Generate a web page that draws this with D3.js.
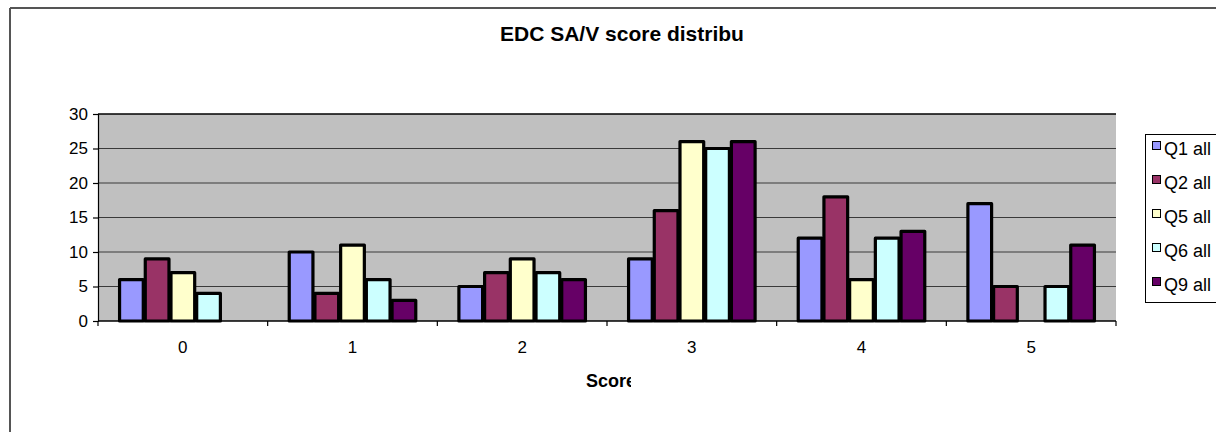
<!DOCTYPE html>
<html>
<head>
<meta charset="utf-8">
<script src="https://cdn.jsdelivr.net/npm/d3@7"></script>
<style>
  body { margin: 0; background: #fff; }
  text { font-family: "Liberation Sans", Arial, sans-serif; }
</style>
</head>
<body>
<div id="chart"></div>
<script>
// Chart data
const scores = ["0", "1", "2", "3", "4", "5"];
const seriesNames = ["Q1 all", "Q2 all", "Q5 all", "Q6 all", "Q9 all"];
const q1 = [6, 10, 5, 9, 12, 17];
const q2 = [9, 4, 7, 16, 18, 5];
const q5 = [7, 11, 9, 26, 6, 0];
const q6 = [4, 6, 7, 25, 12, 5];
const q9 = [0, 3, 6, 26, 13, 11];
const yTicks = [0, 5, 10, 15, 20, 25, 30];
const colors = ["#9999ff", "#993366", "#ffffcc", "#ccffff", "#660066"];

const seriesValues = [q1, q2, q5, q6, q9];

const W = 1216, H = 432;
const plot = {left: 98, right: 1116, top: 114, bottom: 321};

const svg = d3.select("#chart").append("svg")
    .attr("width", W)
    .attr("height", H);

// outer chart frame (only top/left edges visible)
svg.append("line").attr("x1", 10).attr("x2", W).attr("y1", 8).attr("y2", 8)
    .attr("stroke", "#555").attr("stroke-width", 2);
svg.append("line").attr("x1", 10).attr("x2", 10).attr("y1", 8).attr("y2", H)
    .attr("stroke", "#555").attr("stroke-width", 2);

const x0 = d3.scaleBand()
    .domain(scores)
    .range([plot.left, plot.right])
    .padding(0);

const x1 = d3.scaleBand()
    .domain(seriesNames)
    .range([0, x0.bandwidth()])
    .paddingInner(0)
    .paddingOuter(0.8);

const y = d3.scaleLinear()
    .domain([0, 30])
    .range([plot.bottom, plot.top]);

const color = d3.scaleOrdinal().domain(seriesNames).range(colors);

// plot background
svg.append("rect")
    .attr("x", plot.left).attr("y", plot.top)
    .attr("width", plot.right - plot.left)
    .attr("height", plot.bottom - plot.top)
    .attr("fill", "#c0c0c0");

// gridlines
svg.append("g")
    .selectAll("line")
    .data(yTicks.slice(1))
    .join("line")
    .attr("x1", plot.left).attr("x2", plot.right)
    .attr("y1", d => y(d)).attr("y2", d => y(d))
    .attr("stroke", d => d === 30 ? "#000" : "#3a3a3a")
    .attr("stroke-width", d => d === 30 ? 1.5 : 1.2);

// bars
const rows = scores.map((s, i) => ({
    score: s,
    values: seriesNames.map((n, j) => ({name: n, value: seriesValues[j][i]}))
}));

svg.append("g")
    .selectAll("g")
    .data(rows)
    .join("g")
    .attr("transform", d => `translate(${x0(d.score)},0)`)
    .selectAll("rect")
    .data(d => d.values.filter(v => v.value > 0))
    .join("rect")
    .attr("x", d => x1(d.name) + 1)
    .attr("width", x1.bandwidth() - 2)
    .attr("y", d => y(d.value))
    .attr("height", d => y(0) - y(d.value))
    .attr("fill", d => color(d.name))
    .attr("stroke", "#000")
    .attr("stroke-width", 3.2)
    .attr("stroke-linejoin", "round");

// y axis
const yAxis = svg.append("g")
    .attr("transform", `translate(${plot.left},0)`)
    .call(d3.axisLeft(y).tickValues(yTicks).tickSize(5).tickPadding(5));
yAxis.selectAll("text").attr("font-size", 17).attr("fill", "#000")
    .style("font-family", "'Liberation Sans', Arial, sans-serif");
yAxis.selectAll("line, path").attr("stroke", "#000").attr("stroke-width", 1.2);

// x axis with ticks at category boundaries
const xAxisG = svg.append("g");
xAxisG.append("line")
    .attr("x1", plot.left).attr("x2", plot.right)
    .attr("y1", plot.bottom).attr("y2", plot.bottom)
    .attr("stroke", "#000").attr("stroke-width", 1.5);
const bounds = scores.map(s => x0(s)).concat([plot.right]);
xAxisG.selectAll("line.tick")
    .data(bounds)
    .join("line")
    .attr("class", "tick")
    .attr("x1", d => d).attr("x2", d => d)
    .attr("y1", plot.bottom).attr("y2", plot.bottom + 5)
    .attr("stroke", "#000").attr("stroke-width", 1.2);
xAxisG.selectAll("text")
    .data(scores)
    .join("text")
    .attr("x", d => x0(d) + x0.bandwidth() / 2)
    .attr("y", 353)
    .attr("text-anchor", "middle")
    .attr("font-size", 17)
    .text(d => d);

// clipped titles (text is cut off in the original)
const defs = svg.append("defs");
defs.append("clipPath").attr("id", "titleClip")
    .append("rect").attr("x", 0).attr("y", 0).attr("width", 743).attr("height", 60);
defs.append("clipPath").attr("id", "axisTitleClip")
    .append("rect").attr("x", 0).attr("y", 360).attr("width", 631).attr("height", 40);

svg.append("text")
    .attr("x", 500).attr("y", 41)
    .attr("font-size", 21)
    .attr("font-weight", "bold")
    .attr("clip-path", "url(#titleClip)")
    .text("EDC SA/V score distribution");

svg.append("text")
    .attr("x", 586).attr("y", 387)
    .attr("font-size", 18)
    .attr("font-weight", "bold")
    .attr("clip-path", "url(#axisTitleClip)")
    .text("Score");

// legend
const legend = svg.append("g");
legend.append("rect")
    .attr("x", 1145.5).attr("y", 134.5)
    .attr("width", 100).attr("height", 168)
    .attr("fill", "#fff")
    .attr("stroke", "#000")
    .attr("stroke-width", 1);

const items = legend.selectAll("g.item")
    .data(seriesNames)
    .join("g")
    .attr("class", "item")
    .attr("transform", (d, i) => `translate(1152,${155 + i * 34})`);
items.append("rect")
    .attr("x", 0.5).attr("y", -13.5)
    .attr("width", 8).attr("height", 8)
    .attr("fill", d => color(d))
    .attr("stroke", "#000")
    .attr("stroke-width", 1);
items.append("text")
    .attr("x", 12).attr("y", 0)
    .attr("font-size", 18)
    .text(d => d);
</script>
</body>
</html>
